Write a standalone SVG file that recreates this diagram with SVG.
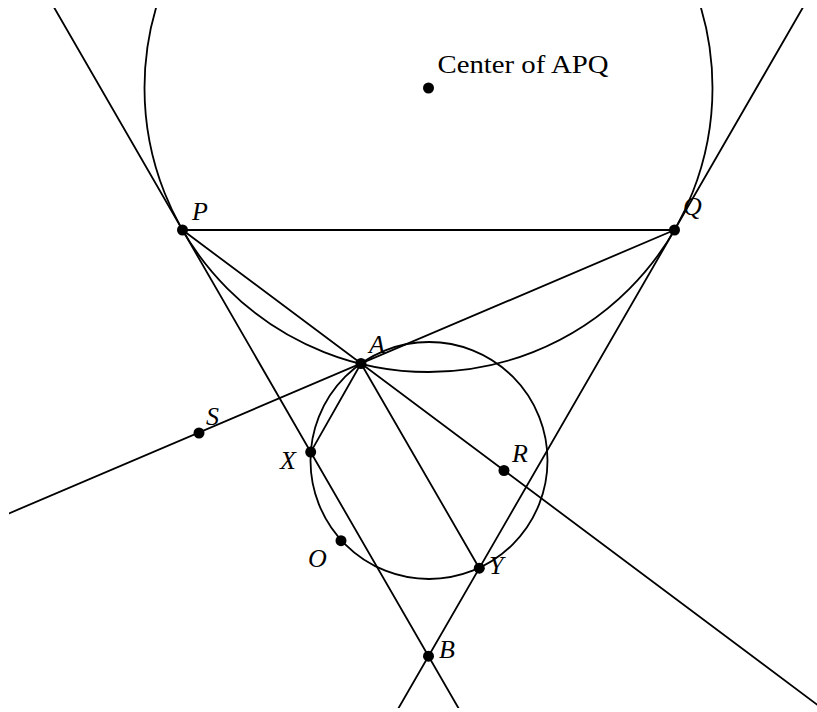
<svg xmlns="http://www.w3.org/2000/svg" width="817" height="712" viewBox="0 0 817 712">
<style>
.ln{stroke:#000;stroke-width:1.8;fill:none;stroke-linecap:round}
.dot{fill:#000}
.f{font-family:'Liberation Serif','Times New Roman','DejaVu Serif',serif}
</style>
<defs>
<clipPath id="clip"><rect x="9" y="8" width="808" height="700"/></clipPath>
</defs>
<rect width="817" height="712" fill="#fff"/>
<g id="connectors" clip-path="url(#clip)">
<circle class="ln" cx="428.5" cy="88" r="284"/>
<circle class="ln" cx="429" cy="460.5" r="118.5"/>
<line class="ln" x1="54.4" y1="8" x2="458.4" y2="708"/>
<line class="ln" x1="802.6" y1="8" x2="398.6" y2="708"/>
<line class="ln" x1="182.5" y1="230" x2="674.5" y2="230"/>
<line class="ln" x1="674.5" y1="230" x2="9" y2="513.4"/>
<line class="ln" x1="182.5" y1="230" x2="817" y2="704.5"/>
<line class="ln" x1="361" y1="363.5" x2="310.7" y2="452.1"/>
<line class="ln" x1="361" y1="363.5" x2="479.3" y2="568.2"/>
</g>
<g class="f" fill="#000">
<g id="center">
<circle class="dot" cx="428.5" cy="88" r="5.5"/>
<text class="f" x="437.5" y="73.3" font-size="26" textLength="171" lengthAdjust="spacingAndGlyphs">Center of APQ</text>
</g>
<g font-style="italic" font-size="26">
<g id="P"><circle class="dot" cx="182.5" cy="230" r="5.5"/><text class="f" x="192" y="220">P</text></g>
<g id="Q"><circle class="dot" cx="674.5" cy="230" r="5.5"/><text class="f" x="683" y="215">Q</text></g>
<g id="A"><circle class="dot" cx="361" cy="363.5" r="5.5"/><text class="f" x="369" y="353">A</text></g>
<g id="S"><circle class="dot" cx="199" cy="433" r="5.5"/><text class="f" x="206" y="425">S</text></g>
<g id="X"><circle class="dot" cx="310.7" cy="452.1" r="5.5"/><text class="f" x="280" y="469">X</text></g>
<g id="R"><circle class="dot" cx="504" cy="470.5" r="5.5"/><text class="f" x="512" y="461.5">R</text></g>
<g id="O"><circle class="dot" cx="341" cy="540.7" r="5.5"/><text class="f" x="308" y="566.5">O</text></g>
<g id="Y"><circle class="dot" cx="479.3" cy="568.2" r="5.5"/><text class="f" x="489" y="574">Y</text></g>
<g id="B"><circle class="dot" cx="428.5" cy="656.2" r="5.5"/><text class="f" x="439" y="657.5">B</text></g>
</g>
</g>
</svg>
